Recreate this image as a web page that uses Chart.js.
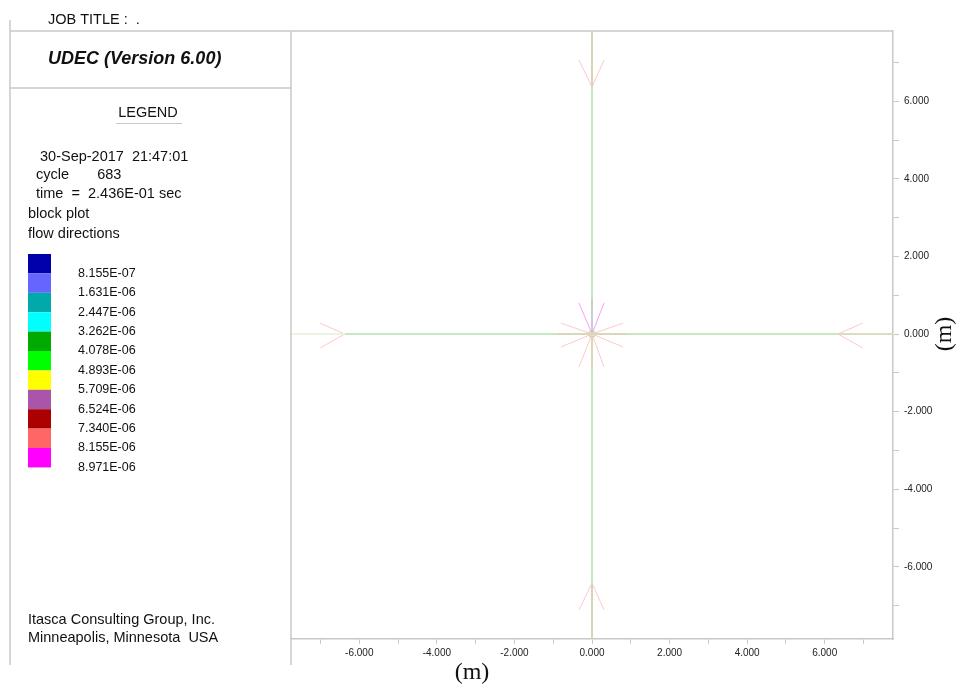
<!DOCTYPE html>
<html><head><meta charset="utf-8">
<script src="https://cdn.jsdelivr.net/npm/chart.js@4/dist/chart.umd.min.js"></script>
<style>html,body{margin:0;padding:0;background:#fff}canvas{display:block}</style>
</head><body>
<canvas id="c" width="956" height="685"></canvas>
<script>
// ---------- data ----------
const jobTitle = 'JOB TITLE :  .';
const programName = 'UDEC (Version 6.00)';
const legendTitle = 'LEGEND';
const infoLines = ['30-Sep-2017  21:47:01', 'cycle       683', 'time  =  2.436E-01 sec', 'block plot', 'flow directions'];
const legendValues = ['8.155E-07','1.631E-06','2.447E-06','3.262E-06','4.078E-06','4.893E-06','5.709E-06','6.524E-06','7.340E-06','8.155E-06','8.971E-06'];
const legendColors = ['#0000aa','#6666ff','#00aaaa','#00ffff','#00aa00','#00ff00','#ffff00','#aa55aa','#aa0000','#ff6666','#ff00ff'];
const footerLines = ['Itasca Consulting Group, Inc.', 'Minneapolis, Minnesota  USA'];
const axisTitle = '(m)';
const labelledTicks = [-6, -4, -2, 0, 2, 4, 6];
const xRange = [-7.76, 7.76];
const yRange = [-7.86, 7.81];
// joint along y = 0, break points in x
const jointHorizontal = [-7.76, -6.37, -0.9, 0.9, 6.34, 7.76];
// joint along x = 0, break points in y
const jointVertical = [7.81, 6.37, 0.9, 0, -0.9, -6.42, -7.86];
// flow direction arrowheads (arm, tip, arm) in metres
const edgeArrowheads = [
  [{x:-7.01,y:0.28},{x:-6.37,y:0},{x:-7.01,y:-0.36}],
  [{x:6.98,y:0.28},{x:6.34,y:0},{x:6.98,y:-0.36}],
  [{x:-0.335,y:7.06},{x:0,y:6.37},{x:0.31,y:7.06}],
  [{x:-0.335,y:-7.11},{x:0,y:-6.42},{x:0.31,y:-7.11}]
];
const centerArrowheadUp = [{x:-0.335,y:0.8},{x:0,y:0},{x:0.31,y:0.8}];
const centerArrowheads = [
  [{x:-0.8,y:0.28},{x:0,y:0},{x:-0.8,y:-0.335}],
  [{x:0.8,y:0.28},{x:0,y:0},{x:0.8,y:-0.335}],
  [{x:-0.335,y:-0.85},{x:0,y:0},{x:0.31,y:-0.85}]
];
const domainCentre = [{x:0,y:0}];

// ---------- styles ----------
const hColors = ['#eef2e2','#c4eac4','#d8d8b8','#c8e8c0','#dcdcc0'];
const vColors = ['#d6d6b4','#c4eac4','#cccccc','#d8d8b8','#c4eac4','#d6d6b4'];
const FRAME = '#c8c8c8';
const SANS = '"Liberation Sans", Arial, sans-serif';

const datasets = [];
for (let i = 0; i < jointHorizontal.length - 1; i++) {
  datasets.push({data:[{x:jointHorizontal[i],y:0},{x:jointHorizontal[i+1],y:0}], borderColor:hColors[i], borderWidth:2});
}
for (let i = 0; i < jointVertical.length - 1; i++) {
  datasets.push({data:[{x:0,y:jointVertical[i]},{x:0,y:jointVertical[i+1]}], borderColor:vColors[i], borderWidth:2});
}
edgeArrowheads.concat(centerArrowheads).forEach(a => datasets.push({data:a, borderColor:'#ffc8c8', borderWidth:1}));
datasets.push({data:centerArrowheadUp, borderColor:'#ff9cff', borderWidth:1});
datasets.forEach(d => { d.showLine = true; d.pointRadius = 0; d.fill = false; d.tension = 0; });
datasets.push({data:domainCentre, showLine:false, pointRadius:3, pointBackgroundColor:'#ffffff', pointBorderColor:'#a8dca8', pointBorderWidth:1.2});

const fmt = v => {
  const r = Math.round(v);
  if (Math.abs(v - r) > 1e-6 || !labelledTicks.includes(r)) return '';
  return (r === 0 ? 0 : r).toFixed(3);
};

const decor = {
  id: 'decor',
  beforeDraw(chart) {
    const c = chart.ctx;
    c.save(); c.fillStyle = '#fff'; c.fillRect(0, 0, chart.width, chart.height); c.restore();
  },
  afterDraw(chart) {
    const c = chart.ctx, a = chart.chartArea;
    c.save();
    c.strokeStyle = FRAME; c.lineWidth = 1.5;
    const line = (x1,y1,x2,y2) => { c.beginPath(); c.moveTo(x1,y1); c.lineTo(x2,y2); c.stroke(); };
    // plot frame
    line(a.left, a.top, a.right, a.top);
    line(a.left, a.top, a.left, 665);
    // left panel
    line(10, 20, 10, 665);
    line(10, a.top, a.left, a.top);
    line(10, 88, a.left, 88);
    c.lineWidth = 1; line(116, 123.5, 182, 123.5);

    c.fillStyle = '#111'; c.textBaseline = 'middle'; c.textAlign = 'left';
    c.font = '14.5px ' + SANS;
    c.fillText(jobTitle, 48, 20);
    c.font = 'italic bold 18px ' + SANS;
    c.fillText(programName, 48, 59);
    c.font = '14.5px ' + SANS;
    c.textAlign = 'center'; c.fillText(legendTitle, 148, 113); c.textAlign = 'left';
    const infoX = [40, 36, 36, 28, 28], infoY = [157, 175, 194, 214, 234];
    infoLines.forEach((t,i) => c.fillText(t, infoX[i], infoY[i]));
    footerLines.forEach((t,i) => c.fillText(t, 28, 620 + i*18));

    // colour legend
    const top = 254, h = 19.4;
    legendColors.forEach((col,i) => { c.fillStyle = col; c.fillRect(28, top + i*h, 23, h); });
    c.fillStyle = '#111'; c.font = '12.5px ' + SANS;
    legendValues.forEach((t,i) => c.fillText(t, 78, top + (i+1)*h));

    // axis titles
    c.font = '24px "Liberation Serif", "Times New Roman", serif';
    c.textAlign = 'center';
    c.fillText(axisTitle, 472, 673);
    c.translate(945, 334); c.rotate(-Math.PI/2); c.fillText(axisTitle, 0, 0);
    c.restore();
  }
};

new Chart(document.getElementById('c'), {
  type: 'scatter',
  data: { datasets },
  plugins: [decor],
  options: {
    responsive: false, animation: false, devicePixelRatio: 1,
    layout: { padding: { left: 291, top: 31, right: 0, bottom: 0 } },
    plugins: { legend: { display: false }, tooltip: { enabled: false } },
    scales: {
      x: {
        type: 'linear', position: 'bottom', min: xRange[0], max: xRange[1],
        afterFit: s => { s.height = 46; },
        grid: { drawOnChartArea: false, drawTicks: true, tickLength: 5, tickColor: FRAME, lineWidth: 1 },
        border: { display: true, color: FRAME, width: 1.5 },
        ticks: { stepSize: 1, maxTicksLimit: 40, includeBounds: false, autoSkip: false, maxRotation: 0,
                 padding: 3, color: '#222', font: { family: SANS, size: 10 }, callback: fmt }
      },
      y: {
        type: 'linear', position: 'right', min: yRange[0], max: yRange[1],
        afterFit: s => { s.width = 63; },
        grid: { drawOnChartArea: false, drawTicks: true, tickLength: 6, tickColor: FRAME, lineWidth: 1 },
        border: { display: true, color: FRAME, width: 1.5 },
        ticks: { stepSize: 1, maxTicksLimit: 40, includeBounds: false, autoSkip: false, crossAlign: 'near',
                 padding: 5, color: '#222', font: { family: SANS, size: 10 }, callback: fmt }
      }
    }
  }
});
</script>
</body></html>
